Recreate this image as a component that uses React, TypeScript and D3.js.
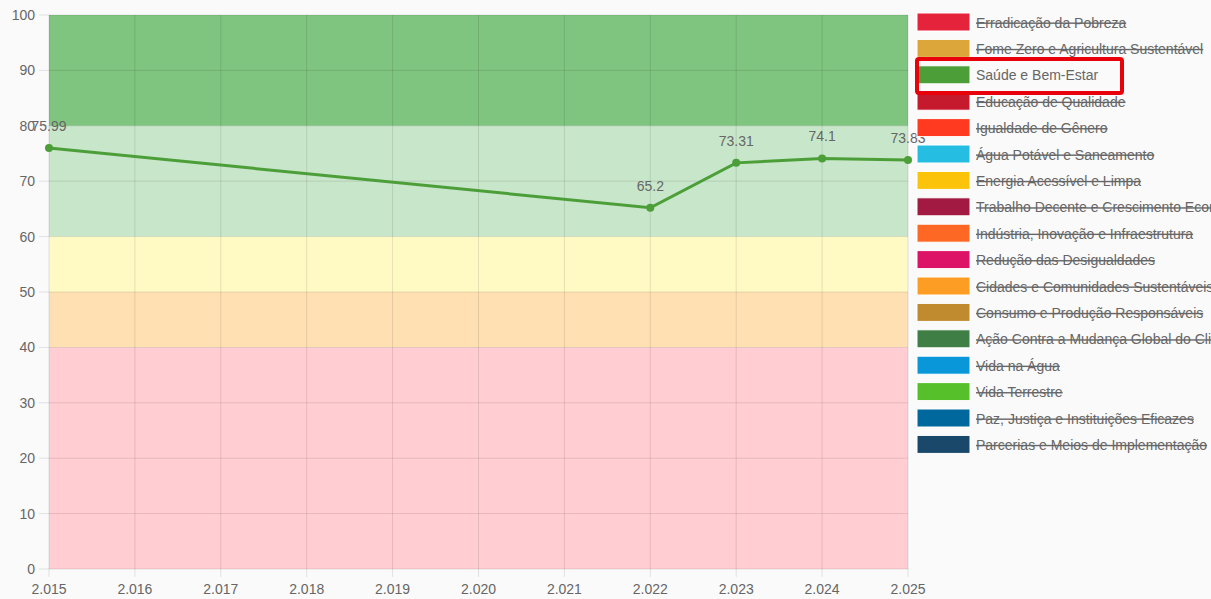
import React from "react";
import * as d3 from "d3";

const years = [2015, 2022, 2023, 2024, 2025];
const values = [75.99, 65.2, 73.31, 74.1, 73.83];
const xTicks = [2015, 2016, 2017, 2018, 2019, 2020, 2021, 2022, 2023, 2024, 2025];
const yTicks = [0, 10, 20, 30, 40, 50, 60, 70, 80, 90, 100];

const bandRanges: [number, number][] = [[80, 100], [60, 80], [50, 60], [40, 50], [0, 40]];
const bandColors = ["#7fc47f", "#c8e6c9", "#fff9c4", "#ffe0b2", "#ffcdd2"];

const legendLabels = [
  "Erradicação da Pobreza",
  "Fome Zero e Agricultura Sustentável",
  "Saúde e Bem-Estar",
  "Educação de Qualidade",
  "Igualdade de Gênero",
  "Água Potável e Saneamento",
  "Energia Acessível e Limpa",
  "Trabalho Decente e Crescimento Econômico",
  "Indústria, Inovação e Infraestrutura",
  "Redução das Desigualdades",
  "Cidades e Comunidades Sustentáveis",
  "Consumo e Produção Responsáveis",
  "Ação Contra a Mudança Global do Clima",
  "Vida na Água",
  "Vida Terrestre",
  "Paz, Justiça e Instituições Eficazes",
  "Parcerias e Meios de Implementação",
];
const legendColors = [
  "#E5243B", "#DDA63A", "#4C9F38", "#C5192D", "#FF3A21", "#26BDE2", "#FCC30B",
  "#A21942", "#FD6925", "#DD1367", "#FD9D24", "#BF8B2E", "#3F7E44", "#0A97D9",
  "#56C02B", "#00689D", "#19486A",
];
const activeIndex = 2;

const W = 1211;
const H = 599;
const left = 49, right = 908, top = 15, bottom = 569;
const FONT = "'Liberation Sans', Arial, Helvetica, sans-serif";

const ptBR = d3.formatLocale({ decimal: ",", thousands: ".", grouping: [3], currency: ["R$", ""] });
const fmtYear = ptBR.format(",d");

export default function App() {
  React.useEffect(() => {
    document.body.style.margin = "0";
    document.body.style.background = "#fafafa";
  }, []);

  const x = d3.scaleLinear().domain([2015, 2025]).range([left, right]);
  const y = d3.scaleLinear().domain([0, 100]).range([bottom, top]);
  const line = d3.line<number>().x((_, i) => x(years[i])).y((d) => y(d));

  const legX = 917, legY0 = 13, legStep = 26.4, boxW = 53, boxH = 18;

  return (
    <svg width={W} height={H} style={{ position: "absolute", left: 0, top: 0, background: "#fafafa" }} fontFamily={FONT}>
      {bandRanges.map((r, i) => (
        <rect key={i} x={left} y={y(r[1])} width={right - left} height={y(r[0]) - y(r[1])} fill={bandColors[i]} />
      ))}
      {yTicks.map((t) => (
        <line key={"gy" + t} x1={left - 10} x2={right} y1={y(t)} y2={y(t)} stroke="rgba(0,0,0,0.1)" strokeWidth={1} />
      ))}
      {xTicks.map((t) => (
        <line key={"gx" + t} x1={x(t)} x2={x(t)} y1={top} y2={bottom + 8} stroke="rgba(0,0,0,0.1)" strokeWidth={1} />
      ))}
      {yTicks.map((t) => (
        <text key={"ly" + t} x={left - 14} y={y(t) + 5} textAnchor="end" fontSize={14} fill="#666">{t}</text>
      ))}
      {xTicks.map((t) => (
        <text key={"lx" + t} x={x(t)} y={bottom + 25} textAnchor="middle" fontSize={14} fill="#666">{fmtYear(t)}</text>
      ))}
      <path d={line(values) || ""} fill="none" stroke="#4C9F38" strokeWidth={3} />
      {values.map((v, i) => (
        <circle key={"p" + i} cx={x(years[i])} cy={y(v)} r={4} fill="#4C9F38" />
      ))}
      {values.map((v, i) => (
        <text key={"dl" + i} x={x(years[i])} y={y(v) - 17} textAnchor="middle" fontSize={14} fill="#666">{String(v)}</text>
      ))}
      {legendLabels.map((lab, i) => {
        const yy = legY0 + i * legStep;
        return (
          <g key={"lg" + i}>
            <rect x={legX} y={yy} width={boxW} height={boxH} fill={legendColors[i]} stroke="#fff" strokeWidth={1} />
            <text x={legX + boxW + 6} y={yy + 14.5} fontSize={14} fill="#666"
              style={{ textDecoration: i === activeIndex ? "none" : "line-through" }}>{lab}</text>
          </g>
        );
      })}
      <rect x={917} y={59} width={205} height={34} fill="none" stroke="#e8000b" strokeWidth={4} rx={2} />
    </svg>
  );
}
